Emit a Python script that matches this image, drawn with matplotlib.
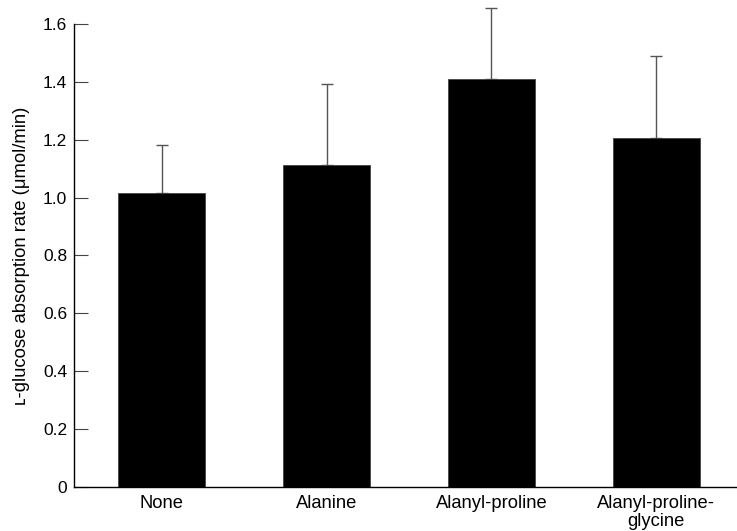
import matplotlib
matplotlib.use("Agg")
import matplotlib.pyplot as plt

categories = ["None", "Alanine", "Alanyl-proline", "Alanyl-proline-\nglycine"]
means = [1.015, 1.111, 1.409, 1.206]
upper_err = [0.167, 0.283, 0.245, 0.283]
yticks = [0, 0.2, 0.4, 0.6, 0.8, 1.0, 1.2, 1.4, 1.6]
ytick_labels = ["0", "0.2", "0.4", "0.6", "0.8", "1.0", "1.2", "1.4", "1.6"]

plt.rcParams['font.family'] = ['Liberation Sans', 'DejaVu Sans']

fig = plt.figure(figsize=(7.37, 5.31), dpi=100)
ax = fig.add_axes([0.1004, 0.0829, 0.8996, 0.8721])

x = list(range(len(categories)))
ax.bar(x, means, width=0.527, color="black", edgecolor="#444444", linewidth=0.6, zorder=2)
ax.errorbar(x, means, yerr=[[0]*len(means), upper_err], fmt="none", ecolor="#555555",
            elinewidth=1.0, capsize=4.5, capthick=1.0, clip_on=False, zorder=1)

ax.set_xlim(-0.533, 3.49)
ax.set_ylim(0, 1.6)
ax.set_yticks(yticks)
ax.set_yticklabels(ytick_labels, fontsize=12.5)
ax.set_xticks(x)
ax.set_xticklabels(categories, fontsize=13.2, linespacing=1.05)
ax.tick_params(axis="y", direction="in", length=10, width=0.8, color="#444444", pad=5)
ax.tick_params(axis="x", length=0, pad=6)
for s in ["top", "right"]:
    ax.spines[s].set_visible(False)
for s in ["left", "bottom"]:
    ax.spines[s].set_linewidth(1.0)
ax.set_ylabel("\u029f-glucose absorption rate (\u03bcmol/min)", fontsize=13.3, labelpad=9)

fig.savefig("out.png", dpi=100)
